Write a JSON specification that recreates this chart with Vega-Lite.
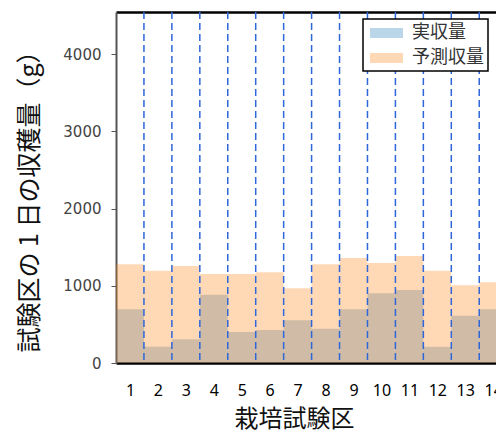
{
  "$schema": "https://vega.github.io/schema/vega-lite/v6.json",
  "width": 380,
  "height": 351,
  "autosize": "none",
  "padding": {"left": 116, "top": 12, "right": 0, "bottom": 72},
  "background": "white",
  "config": {"view": {"stroke": null}},
  "data": {
    "values": [
      {"zone": 1, "type": "実収量", "value": 695},
      {"zone": 2, "type": "実収量", "value": 211},
      {"zone": 3, "type": "実収量", "value": 307},
      {"zone": 4, "type": "実収量", "value": 884},
      {"zone": 5, "type": "実収量", "value": 401},
      {"zone": 6, "type": "実収量", "value": 427},
      {"zone": 7, "type": "実収量", "value": 553},
      {"zone": 8, "type": "実収量", "value": 444},
      {"zone": 9, "type": "実収量", "value": 695},
      {"zone": 10, "type": "実収量", "value": 902},
      {"zone": 11, "type": "実収量", "value": 945},
      {"zone": 12, "type": "実収量", "value": 211},
      {"zone": 13, "type": "実収量", "value": 612},
      {"zone": 14, "type": "実収量", "value": 695},
      {"zone": 1, "type": "予測収量", "value": 1278},
      {"zone": 2, "type": "予測収量", "value": 1195},
      {"zone": 3, "type": "予測収量", "value": 1256},
      {"zone": 4, "type": "予測収量", "value": 1152},
      {"zone": 5, "type": "予測収量", "value": 1152},
      {"zone": 6, "type": "予測収量", "value": 1174},
      {"zone": 7, "type": "予測収量", "value": 967},
      {"zone": 8, "type": "予測収量", "value": 1278},
      {"zone": 9, "type": "予測収量", "value": 1359},
      {"zone": 10, "type": "予測収量", "value": 1294},
      {"zone": 11, "type": "予測収量", "value": 1385},
      {"zone": 12, "type": "予測収量", "value": 1195},
      {"zone": 13, "type": "予測収量", "value": 1006},
      {"zone": 14, "type": "予測収量", "value": 1045}
    ]
  },
  "transform": [
    {"calculate": "datum.zone - 0.5", "as": "x0"},
    {"calculate": "datum.zone + 0.5", "as": "x1"}
  ],
  "layer": [
    {
      "mark": {"type": "bar", "opacity": 0.3, "clip": true, "strokeWidth": 0},
      "encoding": {
        "x": {
          "field": "x0",
          "type": "quantitative",
          "scale": {"domain": [0.5, 14.1], "nice": false, "zero": false},
          "axis": {
            "orient": "bottom",
            "values": [1, 2, 3, 4, 5, 6, 7, 8, 9, 10, 11, 12, 13, 14],
            "format": "d",
            "grid": false,
            "ticks": false,
            "domainColor": "#000000",
            "domainWidth": 2.5,
            "labelFont": "Noto Sans",
            "labelFontSize": 16,
            "labelColor": "#000000",
            "labelPadding": 19,
            "labelOverlap": false,
            "labelBound": false,
            "labelFlush": false,
            "title": "栽培試験区",
            "titleFont": "Noto Sans CJK JP",
            "titleFontSize": 24,
            "titleFontWeight": "normal",
            "titleColor": "#111111",
            "titlePadding": 9,
            "titleX": 178,
            "titleAlign": "center"
          }
        },
        "x2": {"field": "x1"},
        "y": {
          "field": "value",
          "type": "quantitative",
          "stack": null,
          "scale": {"domain": [0, 4544], "nice": false},
          "axis": {
            "values": [0, 1000, 2000, 3000, 4000],
            "format": "d",
            "grid": false,
            "domainColor": "#555555",
            "domainWidth": 2,
            "tickColor": "#555555",
            "tickSize": 5,
            "labelFont": "DejaVu Sans",
            "labelFontSize": 15,
            "labelColor": "#444444",
            "labelPadding": 10,
            "title": "試験区の 1 日の収穫量（g）",
            "titleFont": "Noto Sans CJK JP",
            "titleFontSize": 25,
            "titleFontWeight": "normal",
            "titleColor": "#111111",
            "titlePadding": 20,
            "titleY": 183,
            "titleAlign": "center"
          }
        },
        "y2": {"datum": 0},
        "color": {
          "field": "type",
          "type": "nominal",
          "scale": {"domain": ["実収量", "予測収量"], "range": ["#1f77b4", "#ff7f0e"]},
          "legend": {
            "orient": "none",
            "legendX": 247,
            "legendY": 7,
            "title": null,
            "fillColor": "white",
            "strokeColor": "#000000",
            "padding": 4,
            "cornerRadius": 0,
            "symbolType": "M-0.7,-0.5H2.6V0.5H-0.7Z",
            "symbolSize": 400,
            "symbolOpacity": 0.3,
            "symbolStrokeWidth": 0,
            "labelFont": "Noto Sans CJK JP",
            "labelFontSize": 18,
            "labelColor": "#333333",
            "labelOffset": 25,
            "rowPadding": 6,
            "encode": {"legend": {"update": {"strokeWidth": {"value": 1.5}}}}
          }
        }
      }
    },
    {
      "transform": [{"filter": "datum.type === '実収量' && datum.zone < 14"}],
      "mark": {"type": "rule", "color": "#2f66d9", "strokeDash": [7, 4], "strokeWidth": 1.5},
      "encoding": {
        "x": {
          "field": "x1",
          "type": "quantitative",
          "axis": {
            "orient": "top",
            "labels": false,
            "ticks": false,
            "grid": false,
            "title": null,
            "domainColor": "#000000",
            "domainWidth": 2.5
          }
        }
      }
    }
  ],
  "resolve": {"axis": {"x": "independent"}}
}
